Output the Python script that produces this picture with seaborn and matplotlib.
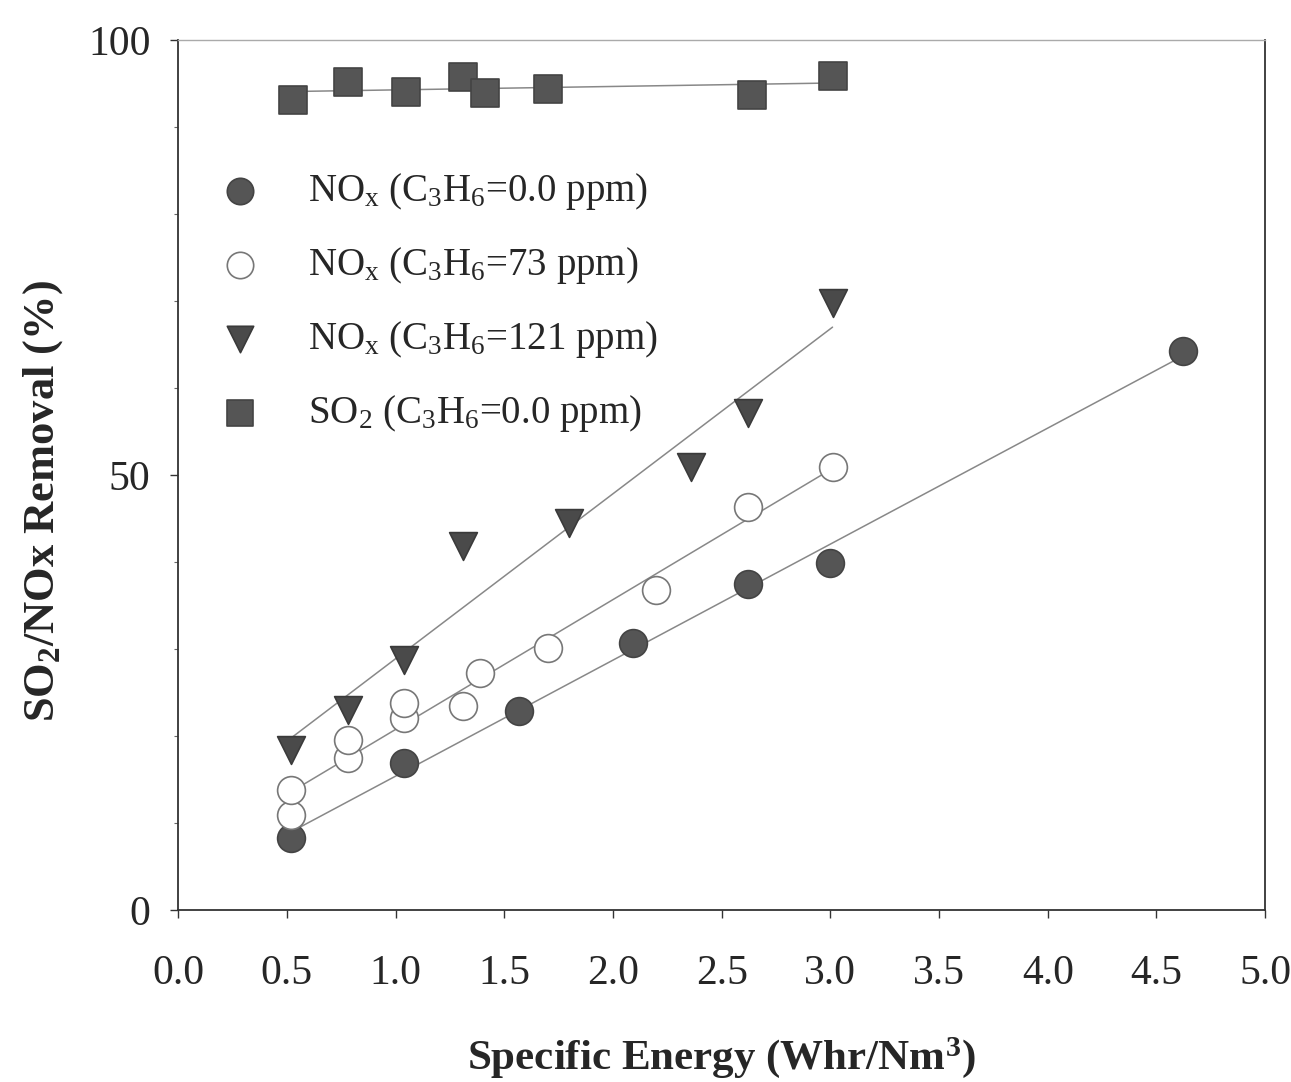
import numpy as np
import pandas as pd
import matplotlib
matplotlib.use("Agg")
import matplotlib.pyplot as plt
from matplotlib.ticker import MultipleLocator
import seaborn as sns

# NOx removal, C3H6 = 0.0 ppm
nox0_x = [0.52, 1.04, 1.57, 2.09, 2.62, 3.00, 4.62]
nox0_y = [8.3, 16.9, 22.9, 30.7, 37.5, 39.9, 64.3]

# NOx removal, C3H6 = 73 ppm
nox73_x = [0.52, 0.52, 0.78, 0.78, 1.04, 1.04, 1.31, 1.39, 1.70, 2.20, 2.62, 3.01]
nox73_y = [10.9, 13.8, 17.5, 19.5, 22.1, 23.8, 23.4, 27.2, 30.1, 36.8, 46.3, 50.9]

# NOx removal, C3H6 = 121 ppm
nox121_x = [0.52, 0.78, 1.04, 1.31, 1.80, 2.36, 2.62, 3.01]
nox121_y = [18.4, 23.0, 28.7, 41.8, 44.5, 50.9, 57.1, 69.8]

# SO2 removal, C3H6 = 0.0 ppm
so2_x = [0.53, 0.78, 1.05, 1.31, 1.41, 1.70, 2.64, 3.01]
so2_y = [93.1, 95.2, 94.0, 95.7, 93.9, 94.4, 93.7, 95.9]

labels = [
    r"NO$_\mathrm{x}$ (C$_3$H$_6$=0.0 ppm)",
    r"NO$_\mathrm{x}$ (C$_3$H$_6$=73 ppm)",
    r"NO$_\mathrm{x}$ (C$_3$H$_6$=121 ppm)",
    r"SO$_2$ (C$_3$H$_6$=0.0 ppm)",
]

sns.set_style("ticks")
plt.rcParams["font.family"] = ["Liberation Serif", "DejaVu Serif"]
plt.rcParams["mathtext.fontset"] = "custom"
plt.rcParams["mathtext.rm"] = "Liberation Serif"
plt.rcParams["mathtext.it"] = "Liberation Serif:italic"
plt.rcParams["mathtext.bf"] = "Liberation Serif:bold"
plt.rcParams["mathtext.default"] = "rm"

fig = plt.figure(figsize=(12.91, 10.82), dpi=100)
ax = fig.add_axes([0.138, 0.159, 0.842, 0.804])

series = [
    (nox0_x, nox0_y, "o", "#555555", "#444444"),
    (nox73_x, nox73_y, "o", "white", "#777777"),
    (nox121_x, nox121_y, "v", "#4a4a4a", "#3a3a3a"),
    (so2_x, so2_y, "s", "#555555", "#444444"),
]

# fitted lines first, markers on top
line_kws = dict(color="#888888", linewidth=1.1)
for (x, y, m, fc, ec), lab in zip(series, labels):
    df = pd.DataFrame({"x": x, "y": y})
    sns.regplot(data=df, x="x", y="y", ax=ax, scatter=False, ci=None,
                truncate=True, line_kws=line_kws)
for (x, y, m, fc, ec), lab in zip(series, labels):
    df = pd.DataFrame({"x": x, "y": y})
    sns.scatterplot(data=df, x="x", y="y", ax=ax, marker=m, s=400,
                    color=fc, edgecolor=ec, linewidth=1.2, label=lab, zorder=3)

ax.set_xlim(0, 5)
ax.set_ylim(0, 100)
ax.set_xticks(np.arange(0, 5.01, 0.5))
ax.set_xticklabels([f"{v:.1f}" for v in np.arange(0, 5.01, 0.5)])
ax.set_yticks([0, 50, 100])
ax.yaxis.set_minor_locator(MultipleLocator(10))
ax.tick_params(axis="both", which="major", labelsize=30, length=6,
               width=1, direction="out", color="#333333")
ax.tick_params(axis="y", which="minor", length=3, width=0.8, color="#666666")
ax.tick_params(axis="x", pad=26)
ax.tick_params(axis="y", pad=14)

for side in ["left", "right", "bottom"]:
    ax.spines[side].set_color("#333333")
    ax.spines[side].set_linewidth(1.3)
ax.spines["top"].set_color("#aaaaaa")
ax.spines["top"].set_linewidth(1.0)

ax.set_xlabel(r"Specific Energy (Whr/Nm$^\mathbf{3}$)", fontsize=31,
              fontweight="bold", labelpad=30)
ax.set_ylabel(r"SO$_\mathbf{2}$/NOx Removal (%)", fontsize=32,
              fontweight="bold")
ax.yaxis.set_label_coords(-0.104, 0.47)

ax.legend(loc="upper left", bbox_to_anchor=(0.007, 0.867), frameon=False,
          fontsize=28, handletextpad=0.75, labelspacing=0.85, borderaxespad=0,
          markerscale=0.95)

fig.savefig("out.png", dpi=100)
